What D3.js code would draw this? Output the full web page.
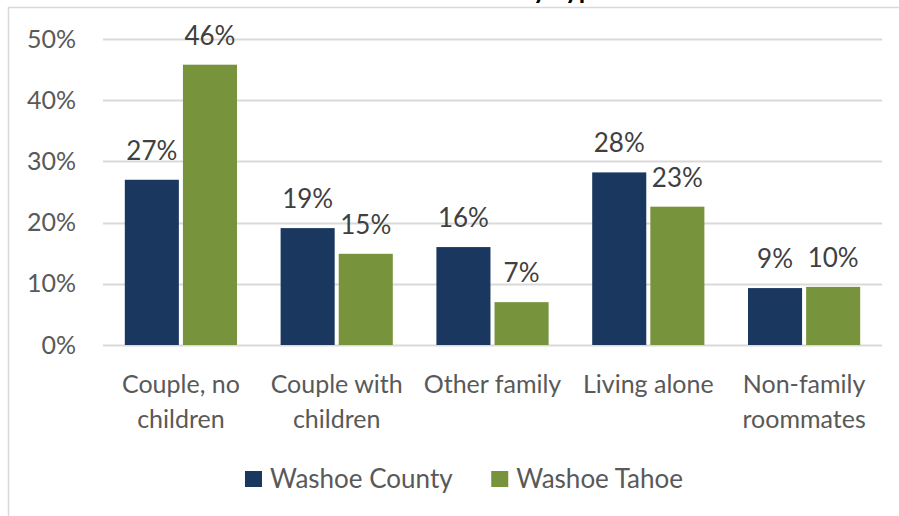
<!DOCTYPE html>
<html>
<head>
<meta charset="utf-8">
<script src="https://cdn.jsdelivr.net/npm/d3@7"></script>
<style>
  body { margin: 0; background: #fff; }
  svg { display: block; font-family: Lato, "Open Sans", sans-serif; }
</style>
</head>
<body>
<svg id="chart" width="899" height="516"></svg>
<script>
// chart data
var categories = ["Couple, no\nchildren", "Couple with\nchildren", "Other family", "Living alone", "Non-family\nroommates"];
var seriesNames = ["Washoe County", "Washoe Tahoe"];
var washoeCounty = [27.0, 19.1, 16.0, 28.2, 9.3];
var washoeTahoe = [45.8, 14.9, 7.0, 22.6, 9.5];
var yTicks = [0, 10, 20, 30, 40, 50];
var titleText = "Household Family Type";

var colors = ["#19375f", "#77933c"];
var GRID = "#d9d9d9";
var TEXT = "#595959";

var svg = d3.select("#chart");

// chart area border (runs off the picture on right and bottom)
svg.append("rect")
    .attr("x", 8.5).attr("y", 7.5)
    .attr("width", 1000).attr("height", 1000)
    .attr("fill", "none")
    .attr("stroke", GRID)
    .attr("stroke-width", 1.5);

// title, mostly clipped off at the top like in the original
var title = svg.append("text")
    .attr("y", -1)
    .attr("font-weight", "bold")
    .attr("font-size", 26)
    .attr("fill", "#000")
    .text(titleText);
// put the "y" of "Family" where the original shows it
var yIdx = titleText.indexOf("Family") + 5;
title.attr("x", 533 - title.node().getSubStringLength(0, yIdx));

var plot = { left: 103, right: 882, top: 39, bottom: 345 };

var x0 = d3.scaleBand()
    .domain(d3.range(categories.length))
    .range([plot.left, plot.right])
    .paddingInner(0.28)
    .paddingOuter(0.14);

var x1 = d3.scaleBand()
    .domain(d3.range(seriesNames.length))
    .range([0, x0.bandwidth()])
    .paddingInner(0.07);

var y = d3.scaleLinear()
    .domain([0, 50])
    .range([plot.bottom, plot.top]);

// gridlines
svg.append("g")
    .selectAll("line")
    .data(yTicks)
    .enter()
    .append("line")
    .attr("x1", plot.left)
    .attr("x2", plot.right)
    .attr("y1", function(d) { return Math.round(y(d)) + 0.5; })
    .attr("y2", function(d) { return Math.round(y(d)) + 0.5; })
    .attr("stroke", GRID)
    .attr("stroke-width", 2);

// y axis labels
var yAxis = d3.axisLeft(y)
    .tickValues(yTicks)
    .tickSize(0)
    .tickPadding(0)
    .tickFormat(function(d) { return d + "%"; });

var yg = svg.append("g")
    .attr("transform", "translate(76,0)")
    .call(yAxis);
yg.select(".domain").remove();
yg.selectAll("text")
    .attr("font-family", "Lato, sans-serif")
    .attr("font-size", 25)
    .attr("fill", TEXT);

// bars
var rows = categories.map(function(c, i) {
    return [washoeCounty[i], washoeTahoe[i]];
});

var groups = svg.append("g")
    .selectAll("g")
    .data(rows)
    .enter()
    .append("g")
    .attr("transform", function(_, i) { return "translate(" + x0(i) + ",0)"; });

groups.selectAll("rect")
    .data(function(d) { return d; })
    .enter()
    .append("rect")
    .attr("x", function(_, j) { return x1(j); })
    .attr("y", function(d) { return y(d); })
    .attr("width", x1.bandwidth())
    .attr("height", function(d) { return y(0) - y(d); })
    .attr("fill", function(_, j) { return colors[j]; });

// data labels
groups.selectAll("text")
    .data(function(d) { return d; })
    .enter()
    .append("text")
    .attr("x", function(_, j) { return x1(j) + x1.bandwidth() / 2; })
    .attr("y", function(d) { return y(d) - 20; })
    .attr("text-anchor", "middle")
    .attr("font-size", 26)
    .attr("fill", "#404040")
    .text(function(d) { return Math.round(d) + "%"; });

// category labels
var catLabels = svg.append("g")
    .selectAll("text")
    .data(categories)
    .enter()
    .append("text")
    .attr("x", function(_, i) { return x0(i) + x0.bandwidth() / 2; })
    .attr("y", 393)
    .attr("text-anchor", "middle")
    .attr("font-size", 25)
    .attr("fill", TEXT);

catLabels.selectAll("tspan")
    .data(function(d) { return d.split("\n"); })
    .enter()
    .append("tspan")
    .attr("x", function() { return d3.select(this.parentNode).attr("x"); })
    .attr("dy", function(_, k) { return k === 0 ? 0 : 35; })
    .text(function(d) { return d; });

// legend
var legend = svg.append("g");
var items = legend.selectAll("g")
    .data(seriesNames)
    .enter()
    .append("g");

items.append("rect")
    .attr("width", 17)
    .attr("height", 16)
    .attr("y", 471)
    .attr("fill", function(_, j) { return colors[j]; });

items.append("text")
    .attr("x", 25)
    .attr("y", 488)
    .attr("font-size", 26)
    .attr("fill", TEXT)
    .text(function(d) { return d; });

// lay the legend items out side by side, centred like the original
var gap = 38;
var widths = [];
items.each(function() { widths.push(this.getBBox().width); });
var total = d3.sum(widths) + gap * (widths.length - 1);
var start = 464 - total / 2;
var pos = start;
items.attr("transform", function(_, j) {
    var t = "translate(" + pos + ",0)";
    pos += widths[j] + gap;
    return t;
});
</script>
</body>
</html>
